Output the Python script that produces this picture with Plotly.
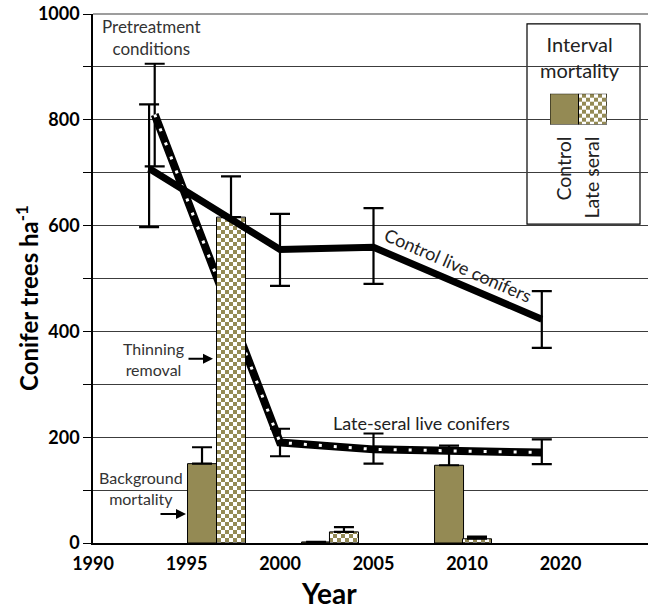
import numpy as np
import plotly.graph_objects as go

# ---------------- data ----------------
tick_years = [1990, 1995, 2000, 2005, 2010, 2020]
tick_labels = ["1990", "1995", "2000", "2005", "2010", "2020"]

control_years = [1993.0, 2000, 2005, 2018]
control_live = [708, 555, 559, 423]
control_upper = [829, 622, 633, 476]
control_lower = [597, 486, 490, 369]

late_years = [1993.3, 2000, 2005, 2018]
late_live = [810, 190, 177, 171]
late_upper = [906, 216, 207, 196]
late_lower = [712, 164, 150, 149]

mort_control_years = [1995.83, 2001.93, 2009.04]
mort_control = [150, 2, 147]
mort_control_upper = [181, None, 184]

mort_late_years = [1997.38, 2003.42, 2011.07]
mort_late = [616, 21, 8]
mort_late_upper = [693, 30, 12]

y_ticks = list(range(0, 1001, 100))
y_labels = [str(v) if v % 200 == 0 else "" for v in y_ticks]

OLIVE = "#948A54"
FONT = "Lato"

# ---------------- helpers ----------------
tick_pos = list(range(len(tick_years)))


def to_pos(years):
    return list(np.interp(years, tick_years, tick_pos))


def plus_err(vals, upper):
    return [(u - v) if u is not None else float("nan") for v, u in zip(vals, upper)]


def minus_err(vals, lower):
    return [(v - l) for v, l in zip(vals, lower)]


L, R, T, B = 93, 648, 12, 543
W, H = R - L, B - T


def px(xp):
    return (xp - L) / W


def py(yp):
    return (B - yp) / H


x_max = W / 93.5
checker = dict(shape=".", fgcolor=OLIVE, bgcolor="white", size=8, solidity=0.5, fillmode="replace")

fig = go.Figure()

# late-seral live conifers (behind bars)
fig.add_trace(go.Scatter(
    x=to_pos(late_years), y=late_live, mode="lines",
    line=dict(color="black", width=8),
    error_y=dict(type="data", symmetric=False,
                 array=plus_err(late_live, late_upper),
                 arrayminus=minus_err(late_live, late_lower),
                 color="black", thickness=2.2, width=10),
    showlegend=False, hoverinfo="skip"))
fig.add_trace(go.Scatter(
    x=to_pos(late_years), y=late_live, mode="lines",
    line=dict(color="white", width=3, dash="3px,12px"),
    showlegend=False, hoverinfo="skip"))

# mortality bars (overlay axes, drawn above the late-seral line)
fig.add_trace(go.Bar(
    x=to_pos(mort_control_years), y=mort_control, width=0.31,
    marker=dict(color=OLIVE, line=dict(color="black", width=1)),
    error_y=dict(type="data", array=plus_err(mort_control, mort_control_upper),
                 arrayminus=[0, 0, 0], symmetric=False,
                 color="black", thickness=2.2, width=10),
    xaxis="x2", yaxis="y2", showlegend=False, hoverinfo="skip"))
fig.add_trace(go.Bar(
    x=to_pos(mort_late_years), y=mort_late, width=0.31,
    marker=dict(color=OLIVE, line=dict(color="black", width=1), pattern=checker),
    error_y=dict(type="data", array=plus_err(mort_late, mort_late_upper),
                 arrayminus=[0, 0, 0], symmetric=False,
                 color="black", thickness=2.2, width=10),
    xaxis="x2", yaxis="y2", showlegend=False, hoverinfo="skip"))

# control live conifers (on top)
fig.add_trace(go.Scatter(
    x=to_pos(control_years), y=control_live, mode="lines",
    line=dict(color="black", width=7),
    error_y=dict(type="data", symmetric=False,
                 array=plus_err(control_live, control_upper),
                 arrayminus=minus_err(control_live, control_lower),
                 color="black", thickness=2.2, width=10),
    xaxis="x2", yaxis="y2", showlegend=False, hoverinfo="skip"))

# legend swatches (inset axes)
fig.add_trace(go.Bar(x=[0], y=[1], width=1,
                     marker=dict(color=OLIVE, line=dict(color="black", width=1)),
                     xaxis="x3", yaxis="y3", showlegend=False, hoverinfo="skip"))
fig.add_trace(go.Bar(x=[1], y=[1], width=1,
                     marker=dict(color=OLIVE, line=dict(color="black", width=1), pattern=checker),
                     xaxis="x3", yaxis="y3", showlegend=False, hoverinfo="skip"))

fig.update_layout(
    width=650, height=611,
    margin=dict(l=L, r=650 - R, t=T, b=611 - B),
    paper_bgcolor="white", plot_bgcolor="white",
    barmode="overlay",
    font=dict(family=FONT, color="black"),
    xaxis=dict(range=[0, x_max], tickvals=tick_pos, ticktext=tick_labels,
               showgrid=False, zeroline=False, showline=True, linecolor="black", linewidth=1.5,
               ticks="", ticklabelstandoff=4,
               tickfont=dict(size=18, weight="bold", family=FONT)),
    yaxis=dict(range=[0, 1000], tickvals=y_ticks, ticktext=y_labels,
               showgrid=True, gridcolor="#3c3c3c", gridwidth=1, zeroline=False,
               showline=True, linecolor="black", linewidth=1.5,
               ticks="outside", ticklen=8, tickwidth=1.2, tickcolor="black",
               tickfont=dict(size=18, weight="bold", family=FONT)),
    xaxis2=dict(overlaying="x", range=[0, x_max], visible=False),
    yaxis2=dict(overlaying="y", range=[0, 1000], visible=False),
    xaxis3=dict(domain=[px(550), px(607)], range=[-0.5, 1.5], anchor="y3", visible=False),
    yaxis3=dict(domain=[py(123), py(92)], range=[0, 1], anchor="x3", visible=False),
)

# top border line and legend box
fig.add_shape(type="line", xref="paper", yref="paper", x0=0, x1=1, y0=1, y1=1,
              line=dict(color="#3c3c3c", width=1.2), layer="below")
fig.add_shape(type="rect", xref="paper", yref="paper",
              x0=px(527), x1=px(640), y0=py(223), y1=py(22),
              line=dict(color="black", width=1.2), fillcolor="white", layer="below")

ann_color = "#333333"
annotations = [
    dict(text="Interval<br>mortality", x=px(580), y=py(55), font=dict(size=20, color="#222")),
    dict(text="Control", x=px(564), y=py(133), yanchor="top", textangle=-90, font=dict(size=19.5, color="#222")),
    dict(text="Late seral", x=px(592), y=py(133), yanchor="top", textangle=-90, font=dict(size=19.5, color="#222")),
    dict(text="Pretreatment<br>conditions", x=px(151), y=py(36), font=dict(size=17, color=ann_color)),
    dict(text="Thinning<br>removal", x=px(153), y=py(358), font=dict(size=16, color=ann_color)),
    dict(text="Background<br>mortality", x=px(141), y=py(488), font=dict(size=16, color=ann_color)),
    dict(text="Control live conifers", x=px(458), y=py(264), textangle=23.5, font=dict(size=18, color="#222")),
    dict(text="Late-seral live conifers", x=px(421), y=py(423), font=dict(size=18, color="#222")),
    dict(text="Conifer trees ha<sup>-1</sup>", x=px(27), y=py(297), textangle=-90,
         font=dict(size=24, weight="bold", color="black")),
    dict(text="Year", x=px(329), y=py(593), font=dict(size=28, weight="bold", color="black")),
]
for a in annotations:
    a.setdefault("xref", "paper")
    a.setdefault("yref", "paper")
    a.setdefault("xanchor", "center")
    a.setdefault("yanchor", "middle")
    a.setdefault("showarrow", False)
    a.setdefault("font", {}).setdefault("family", FONT)
    fig.add_annotation(**a)

# arrows
for (x0, x1, yy) in [(187, 213, 358), (159, 186, 514)]:
    fig.add_annotation(xref="paper", yref="paper", x=px(x1), y=py(yy), ax=x0 - x1, ay=0,
                       text="", showarrow=True, arrowhead=2, arrowsize=1, arrowwidth=2,
                       arrowcolor="black")

# turn the pattern tiles into a true checkerboard (olive / white squares)
post_js = """
(function(){
  var gd = document.getElementById('{plot_id}');
  var NS = 'http://www.w3.org/2000/svg';
  function checkerize(){
    var pats = gd.querySelectorAll('pattern');
    pats.forEach(function(p){
      if (p.getAttribute('data-checker') === '1') return;
      p.setAttribute('data-checker', '1');
      var s = 8, h = 4;
      p.setAttribute('width', s); p.setAttribute('height', s);
      while (p.firstChild) p.removeChild(p.firstChild);
      function r(x, y, w, hh, c){
        var e = document.createElementNS(NS, 'rect');
        e.setAttribute('x', x); e.setAttribute('y', y);
        e.setAttribute('width', w); e.setAttribute('height', hh);
        e.setAttribute('fill', c); p.appendChild(e);
      }
      r(0, 0, s, s, '#ffffff');
      r(0, 0, h, h, '""" + OLIVE + """');
      r(h, h, h, h, '""" + OLIVE + """');
    });
  }
  checkerize();
  if (gd.on) gd.on('plotly_afterplot', checkerize);
})();
"""

fig.write_html("out.html", post_script=post_js)
